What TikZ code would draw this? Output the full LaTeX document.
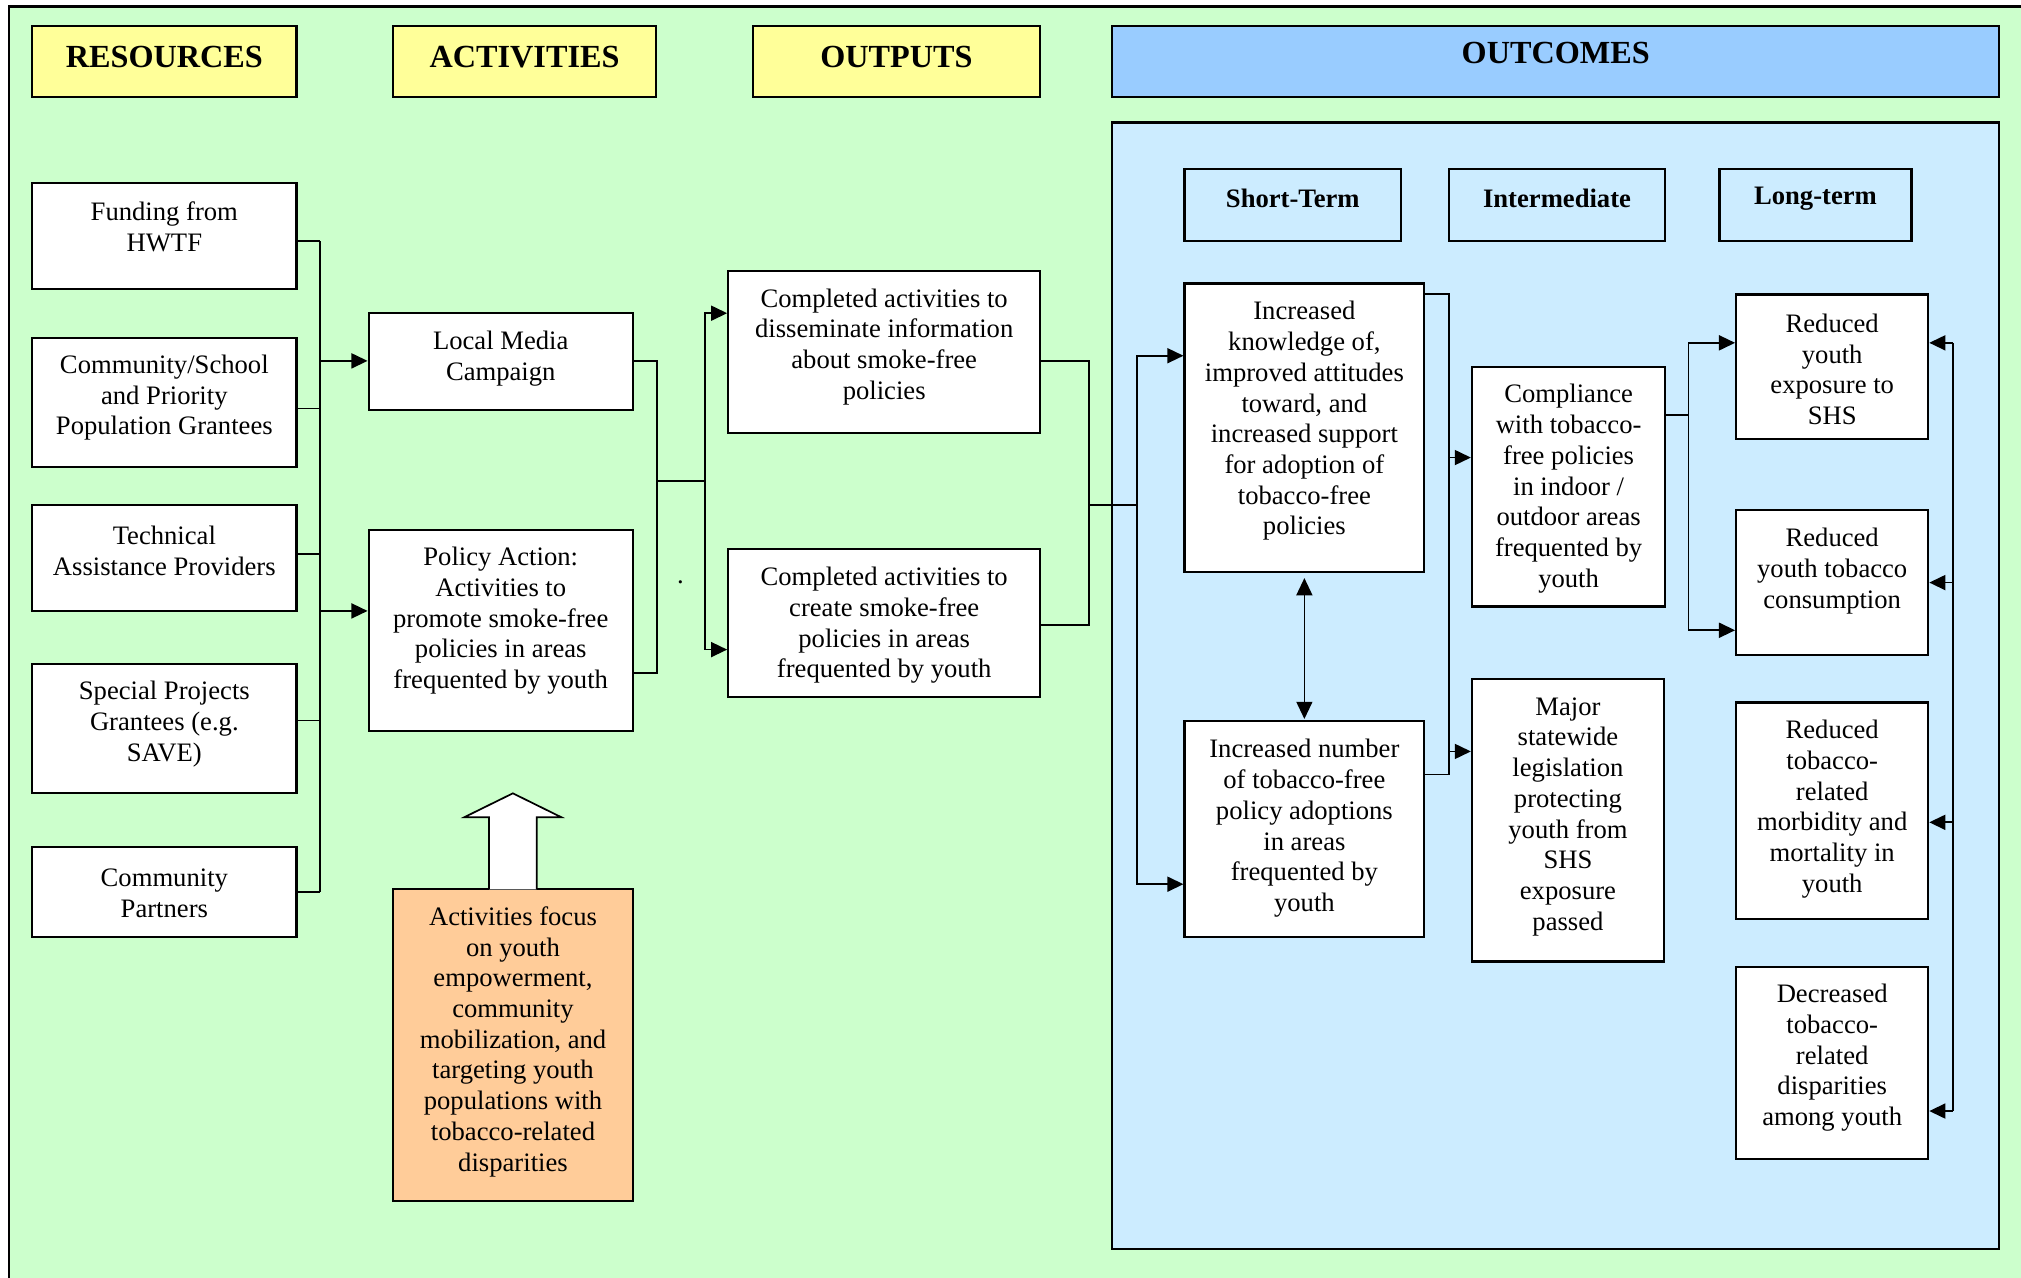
\documentclass[tikz,border=0pt]{standalone}
\usepackage{fontspec}
\setmainfont{Liberation Serif}
\usetikzlibrary{arrows.meta,fit}
\definecolor{bggreen}{HTML}{CCFFCC}
\definecolor{hyellow}{HTML}{FFFF99}
\definecolor{hblue}{HTML}{99CCFF}
\definecolor{pblue}{HTML}{CCECFF}
\definecolor{porange}{HTML}{FFCC99}
\newcommand\bx[8][white]{%
  \node[box, fill=#1, fit={(#3,#4) (#5,#6)}] (#2) {};
  \node[txt] (#2-t) at ({(#3+#5)/2},#7) {#8};
}
\begin{document}
\begin{tikzpicture}[x=0.6pt,y=-0.6pt,
  box/.style={draw=black, line width=1pt, inner sep=0pt},
  txt/.style={font=\fontsize{12.4}{14.3}\selectfont, align=center, inner sep=0pt, yshift=-1.3pt},
  headtxt/.style={font=\fontsize{15}{18}\selectfont\bfseries, inner sep=0pt},
  subtxt/.style={font=\fontsize{12.4}{14.3}\selectfont\bfseries, inner sep=0pt},
  conn/.style={line width=0.8pt},
  arr/.style={conn, -{Triangle[length=7.5pt,width=7pt]}},
  darr/.style={conn, {Triangle[length=8pt,width=7.4pt]}-{Triangle[length=8pt,width=7.4pt]}},
]
\useasboundingbox (0,0) rectangle (1568,991);
\clip (0,0) rectangle (1568,991);
% background frame
\node[box, fill=bggreen, fit={(7,5) (1600,1020)}] (frame) {};

% headers
\node[box, fill=hyellow, fit={(25,20) (230,75)}] (hres) {};
\node[headtxt] (hres-t) at (127.5,44) {RESOURCES};
\node[box, fill=hyellow, fit={(305,20) (509,75)}] (hact) {};
\node[headtxt] (hact-t) at (407,44) {ACTIVITIES};
\node[box, fill=hyellow, fit={(584,20) (807,75)}] (hout) {};
\node[headtxt] (hout-t) at (695.5,44) {OUTPUTS};
\node[box, fill=hblue, fit={(863,20) (1551,75)}] (hoc) {};
\node[headtxt] (hoc-t) at (1207,41) {OUTCOMES};

% outcomes panel
\node[box, fill=pblue, fit={(863,95) (1551,969)}] (panel) {};
\node[box, fill=pblue, fit={(919,131) (1087,187)}] (hst) {};
\node[subtxt] (hst-t) at (1003,154) {Short-Term};
\node[box, fill=pblue, fit={(1124,131) (1292,187)}] (hin) {};
\node[subtxt] (hin-t) at (1208,154) {Intermediate};
\node[box, fill=pblue, fit={(1334,131) (1483,187)}] (hlt) {};
\node[subtxt] (hlt-t) at (1408.5,154) {Long-term};

% resources
\bx{fund}{25}{142}{230}{224}{174}{Funding from\\HWTF}
\bx{comm}{25}{262}{230}{362}{306.5}{Community/School\\and Priority\\Population Grantees}
\bx{tech}{25}{392}{230}{474}{425}{Technical\\Assistance Providers}
\bx{spec}{25}{515}{230}{615}{559.5}{Special Projects\\Grantees (e.g.\\SAVE)}
\bx{part}{25}{657}{230}{727}{691}{Community\\Partners}

% activities
\bx{media}{286}{243}{491}{318}{276}{Local Media\\Campaign}
\bx{policy}{286}{411}{491}{567}{479.5}{Policy Action:\\Activities to\\promote smoke-free\\policies in areas\\frequented by youth}
\bx[porange]{focus}{305}{690}{491}{932}{806}{Activities focus\\on youth\\empowerment,\\community\\mobilization, and\\targeting youth\\populations with\\tobacco-related\\disparities}

% outputs
\bx{out1}{565}{210}{807}{336}{267}{Completed activities to\\disseminate information\\about smoke-free\\policies}
\bx{out2}{565}{426}{807}{541}{483}{Completed activities to\\create smoke-free\\policies in areas\\frequented by youth}
\node[txt] (dot) at (528,450) {.};

% short-term
\bx{know}{919}{220}{1105}{443.5}{324.5}{Increased\\knowledge of,\\improved attitudes\\toward, and\\increased support\\for adoption of\\tobacco-free\\policies}
\bx{num}{919}{559.5}{1105}{727}{640.5}{Increased number\\of tobacco-free\\policy adoptions\\in areas\\frequented by\\youth}

% intermediate
\bx{comp}{1142}{284.5}{1292}{470.5}{377}{Compliance\\with tobacco-\\free policies\\in indoor /\\outdoor areas\\frequented by\\youth}
\bx{major}{1142}{527}{1291}{746}{631.5}{Major\\statewide\\legislation\\protecting\\youth from\\SHS\\exposure\\passed}

% long-term
\bx{lt1}{1347}{228.5}{1496}{340.5}{284.5}{Reduced\\youth\\exposure to\\SHS}
\bx{lt2}{1347}{396}{1496}{508.5}{441}{Reduced\\youth tobacco\\consumption}
\bx{lt3}{1347}{545}{1496}{713}{625.5}{Reduced\\tobacco-\\related\\morbidity and\\mortality in\\youth}
\bx{lt4}{1347}{750}{1496}{899}{818.5}{Decreased\\tobacco-\\related\\disparities\\among youth}

% block arrow
\draw[line width=0.8pt, fill=white] (379.4,690) -- (379.4,634) -- (360.3,634) -- (397.9,615.5) -- (435.4,634) -- (416.4,634) -- (416.4,690);

% resources bus
\coordinate (rb1) at (248,187);
\coordinate (rb2) at (248,317);
\coordinate (rb3) at (248,430);
\coordinate (rb4) at (248,559);
\coordinate (rb5) at (248,692);
\coordinate (ra1) at (248,280);
\coordinate (ra2) at (248,474);
\draw[conn] (fund.east |- rb1) -- (rb1);
\draw[conn] (comm.east |- rb2) -- (rb2);
\draw[conn] (tech.east |- rb3) -- (rb3);
\draw[conn] (spec.east |- rb4) -- (rb4);
\draw[conn] (part.east |- rb5) -- (rb5);
\draw[conn] (rb1) -- (rb5);
\draw[arr] (ra1) -- (media.west |- ra1);
\draw[arr] (ra2) -- (policy.west |- ra2);

% activities -> outputs
\coordinate (ab1) at (510,280);
\coordinate (ab2) at (510,522);
\coordinate (am) at (510,373);
\coordinate (am2) at (547,373);
\coordinate (ao1) at (547,243);
\coordinate (ao2) at (547,504);
\draw[conn] (media.east |- ab1) -- (ab1) -- (ab2) -- (policy.east |- ab2);
\draw[conn] (am) -- (am2);
\draw[arr] (am2) -- (ao1) -- (out1.west |- ao1);
\draw[arr] (am2) -- (ao2) -- (out2.west |- ao2);

% outputs -> short-term
\coordinate (ob1) at (845,280);
\coordinate (ob2) at (845,485);
\coordinate (om) at (845,392);
\coordinate (om2) at (882,392);
\coordinate (oc1) at (882,276);
\coordinate (oc2) at (882,686);
\draw[conn] (out1.east |- ob1) -- (ob1) -- (ob2) -- (out2.east |- ob2);
\draw[conn] (om) -- (om2);
\draw[arr] (om2) -- (oc1) -- (know.west |- oc1);
\draw[arr] (om2) -- (oc2) -- (num.west |- oc2);

% short-term double arrow
\draw[darr, shorten <=2.5pt, shorten >=0.5pt] (know.south) -- (num.north);

% short -> intermediate
\coordinate (sb1) at (1124,228);
\coordinate (sb2) at (1124,601);
\coordinate (si1) at (1124,355);
\coordinate (si2) at (1124,583);
\draw[conn] (know.east |- sb1) -- (sb1) -- (sb2) -- (num.east |- sb2);
\draw[arr] (si1) -- (comp.west |- si1);
\draw[arr] (si2) -- (major.west |- si2);

% intermediate -> long
\coordinate (ib) at (1310,322);
\coordinate (il1) at (1310,266);
\coordinate (il2) at (1310,489);
\draw[conn] (comp.east |- ib) -- (ib);
\draw[conn] (il1) -- (il2);
\draw[arr] (il1) -- (lt1.west |- il1);
\draw[arr] (il2) -- (lt2.west |- il2);

% right feedback
\coordinate (fr1) at (1515,266);
\coordinate (fr2) at (1515,452);
\coordinate (fr3) at (1515,638);
\coordinate (fr4) at (1515,862);
\draw[conn] (fr1) -- (fr4);
\draw[arr] (fr1) -- (lt1.east |- fr1);
\draw[arr] (fr2) -- (lt2.east |- fr2);
\draw[arr] (fr3) -- (lt3.east |- fr3);
\draw[arr] (fr4) -- (lt4.east |- fr4);
\end{tikzpicture}
\end{document}
